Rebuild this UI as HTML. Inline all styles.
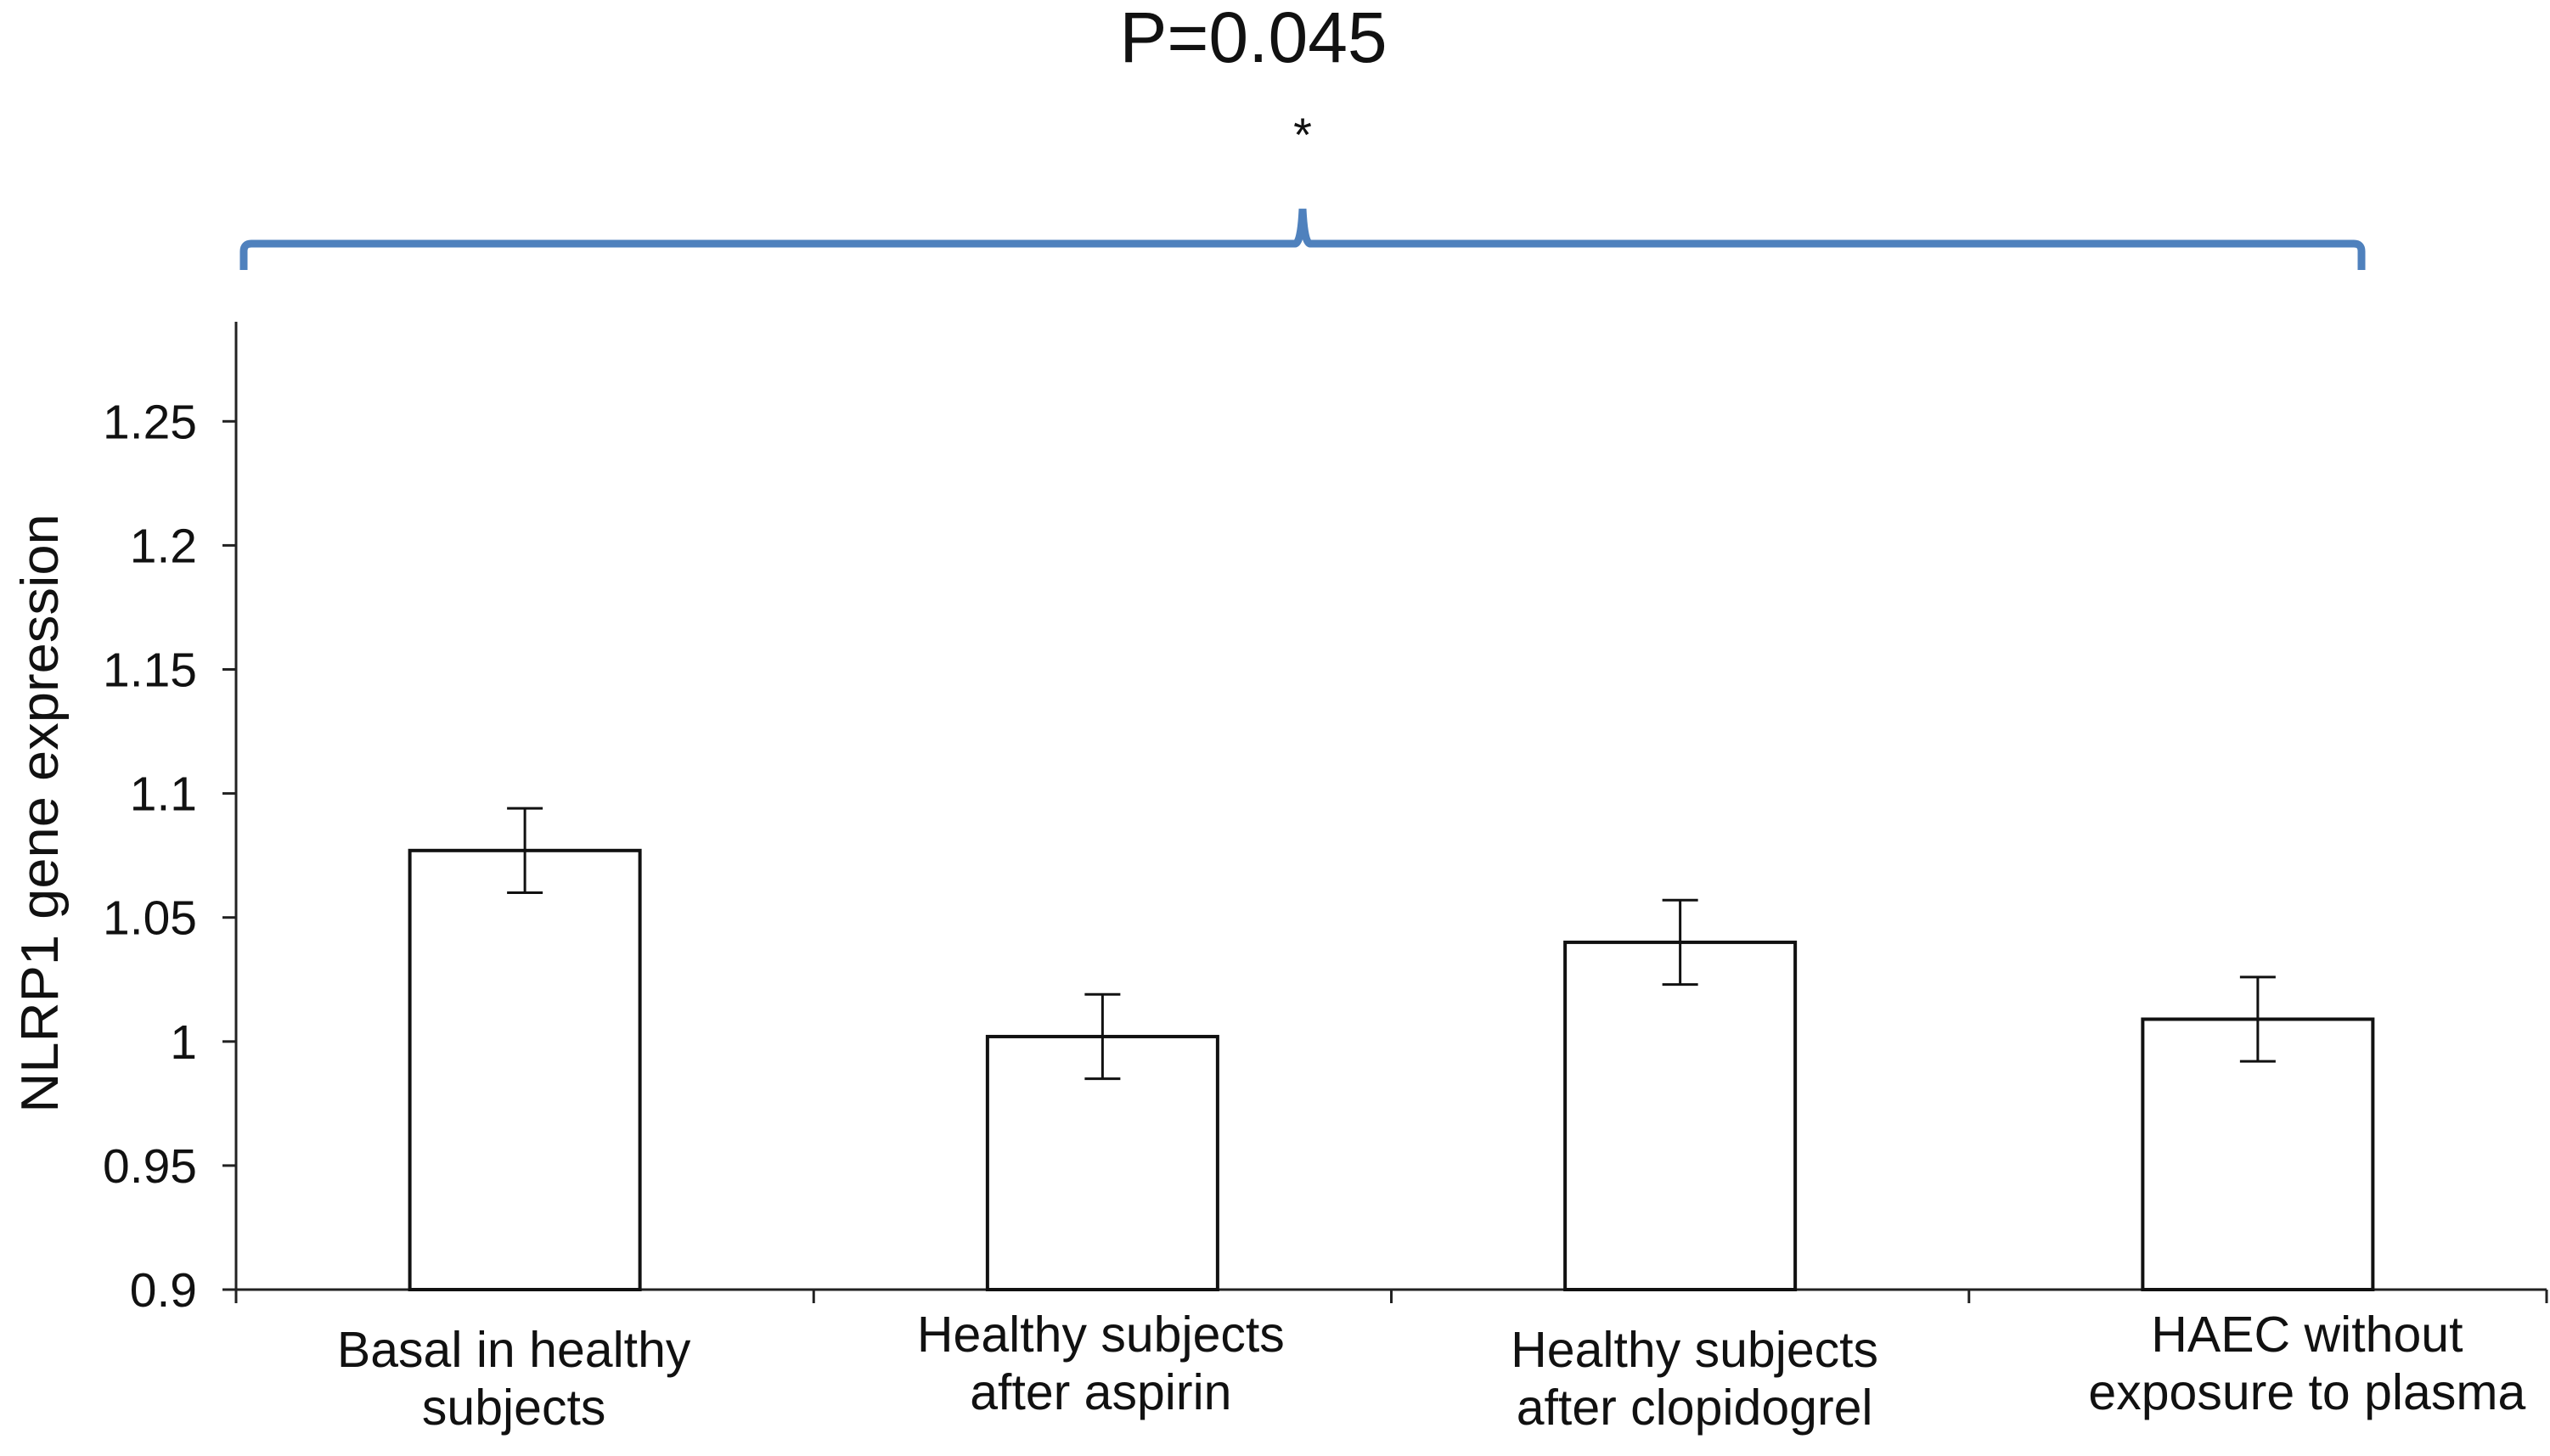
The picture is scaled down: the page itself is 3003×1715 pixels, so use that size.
<!DOCTYPE html>
<html><head><meta charset="utf-8"><style>
html,body{margin:0;padding:0;background:#fff;}
svg{display:block;font-family:"Liberation Sans",sans-serif;}
</style></head><body>
<svg id="chart" width="3003" height="1715" viewBox="0 0 3003 1715" xmlns="http://www.w3.org/2000/svg">
<text x="1476" y="73" font-size="84" text-anchor="middle" fill="#111">P=0.045</text>
<text x="1534" y="178" font-size="56" text-anchor="middle" fill="#111">*</text>
<path d="M287 318 L287 296 Q287 287 296 287 L1525 287 Q1532 287 1534 246 Q1536 287 1543 287 L2772 287 Q2781 287 2781 296 L2781 318" fill="none" stroke="#4f81bd" stroke-width="9"/>
<g id="plot"></g>
<text x="0" y="0" font-size="62" text-anchor="middle" fill="#111" transform="translate(68 958) rotate(-90) scale(1.05 1)">NLRP1 gene expression</text>
</svg>
<script>
const categories = [["Basal in healthy","subjects"],["Healthy subjects","after aspirin"],["Healthy subjects","after clopidogrel"],["HAEC without","exposure to plasma"]];
const values = [1.077, 1.002, 1.040, 1.009];
const errors = [0.017, 0.017, 0.017, 0.017];
const yTicks = [0.9, 0.95, 1, 1.05, 1.1, 1.15, 1.2, 1.25];
const yTickLabels = ["0.9","0.95","1","1.05","1.1","1.15","1.2","1.25"];

const NS="http://www.w3.org/2000/svg";
const g=document.getElementById('plot');
const x0=278, x1=2999, yBase=1519, yTop=379;
const yMin=0.9, pxPer=146.1/0.05;
const y=v=>yBase-(v-yMin)*pxPer;
const band=(x1-x0)/categories.length;
const xc=i=>x0+band*(i+0.5);
const labelShift=[-13,-2,17,58];
const barW=271;
function mk(tag,attrs){const e=document.createElementNS(NS,tag);for(const k in attrs)e.setAttribute(k,attrs[k]);g.appendChild(e);return e;}

let e=mk('line',{x1:x0,y1:yTop,x2:x0,y2:yBase+14,stroke:'#222','stroke-width':3});


yTicks.forEach((t,i)=>{
  let l=mk('line',{x1:x0-16,y1:y(t),x2:x0,y2:y(t),stroke:'#222','stroke-width':3});
  
  
  let tx=mk('text',{x:232,y:y(t)+20,'font-size':57,'text-anchor':'end',fill:'#111'});
  tx.textContent=yTickLabels[i];
  
  
});
e=mk('line',{x1:x0,y1:yBase,x2:x1,y2:yBase,stroke:'#222','stroke-width':3});


for(let i=0;i<=categories.length;i++){
  let l=mk('line',{x1:x0+band*i,y1:yBase,x2:x0+band*i,y2:yBase+16,stroke:'#222','stroke-width':3});
  
  
}
categories.forEach((c,i)=>{
  const cx=xc(i);
  let r=mk('rect',{x:cx-barW/2,y:y(values[i]),width:barW,height:yBase-y(values[i]),fill:'#fff',stroke:'#111','stroke-width':4});
  
  
  const hi=y(values[i]+errors[i]), lo=y(values[i]-errors[i]);
  let eb=mk('path',{d:`M${cx} ${hi} L${cx} ${lo} M${cx-21} ${hi} L${cx+21} ${hi} M${cx-21} ${lo} L${cx+21} ${lo}`,stroke:'#111','stroke-width':3,fill:'none'});
  
  
  c.forEach((line,j)=>{
    let t=mk('text',{x:cx+labelShift[i],y:(i%2?1592:1610)+j*68,'font-size':59,'text-anchor':'middle',fill:'#111'});
    t.textContent=line;
    
    
  });
});
</script>
</body></html>
